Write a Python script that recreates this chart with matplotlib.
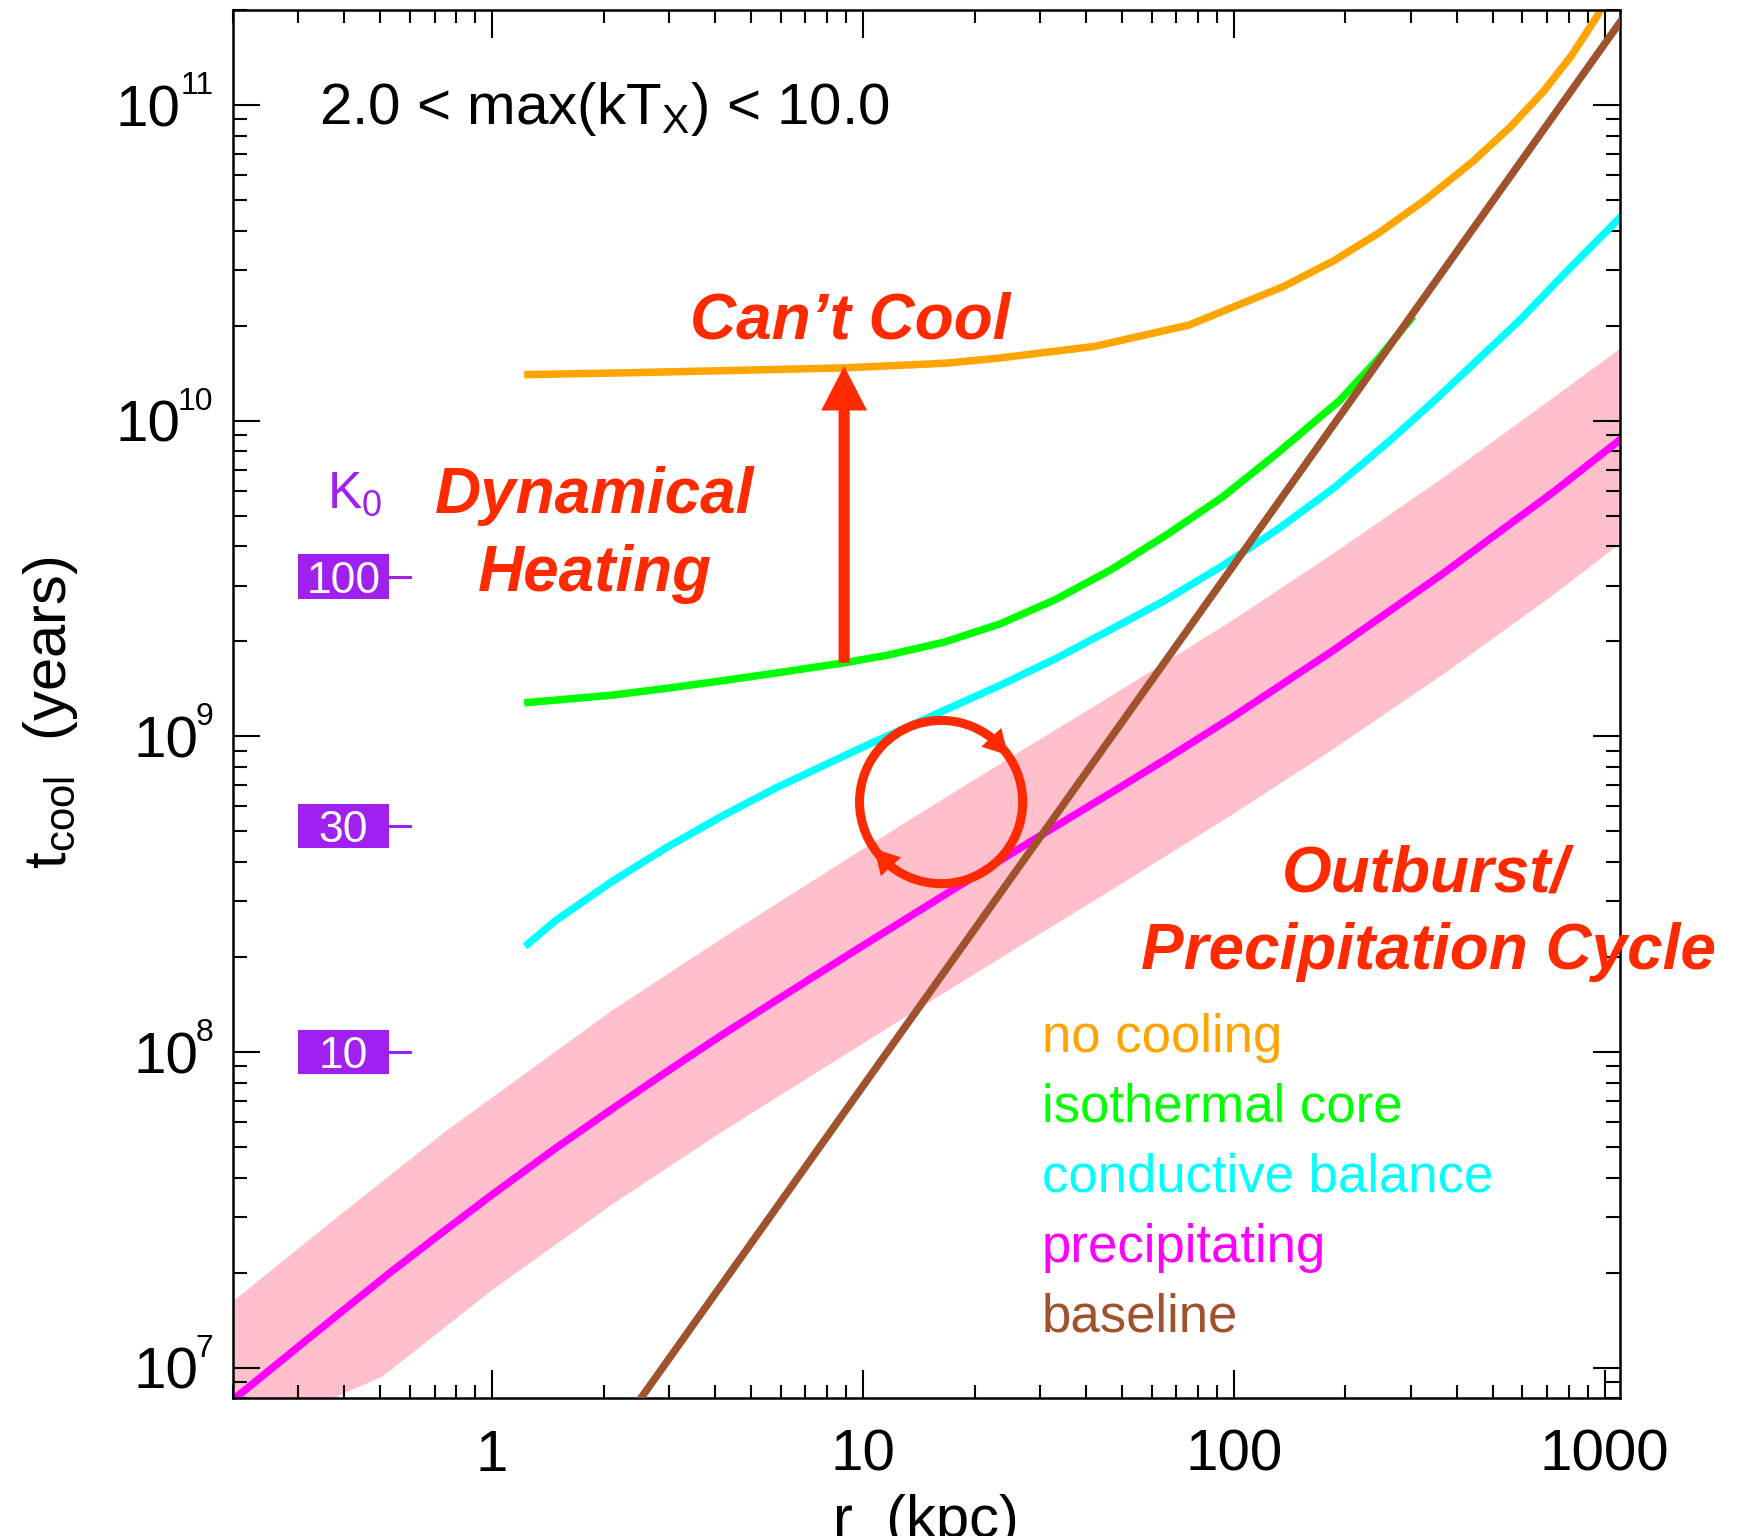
import numpy as np
import matplotlib
matplotlib.use("Agg")
import matplotlib.pyplot as plt
import matplotlib.transforms as mtransforms
from matplotlib.patches import Circle, Rectangle
from matplotlib.ticker import NullFormatter, LogLocator

plt.rcParams['font.family'] = ['Liberation Sans', 'DejaVu Sans']
plt.rcParams['mathtext.fontset'] = 'custom'
plt.rcParams['mathtext.rm'] = 'Liberation Sans'
plt.rcParams['mathtext.it'] = 'Liberation Sans:italic'
plt.rcParams['mathtext.bf'] = 'Liberation Sans:bold'

# --- curves (r in kpc, t_cool in years) ---
r_nocool = [1.25, 2.10, 4.17, 8.91, 16.6, 23.4, 42.2, 75.8, 136, 185, 245, 332,
            442, 556, 685, 812, 948, 1186]
t_nocool = [1.40e10, 1.415e10, 1.44e10, 1.47e10, 1.52e10, 1.58e10, 1.72e10, 2.01e10,
            2.66e10, 3.20e10, 3.92e10, 5.06e10, 6.64e10, 8.51e10, 1.107e11, 1.43e11,
            1.89e11, 2.95e11]

r_iso = [1.25, 2.10, 2.96, 4.17, 5.88, 8.91, 11.7, 16.6, 23.4, 33.0, 46.6, 65.7,
         92.8, 131, 193, 245, 300]
t_iso = [1.28e9, 1.35e9, 1.42e9, 1.50e9, 1.59e9, 1.71e9, 1.81e9, 1.99e9, 2.27e9,
         2.71e9, 3.37e9, 4.34e9, 5.71e9, 7.89e9, 1.16e10, 1.57e10, 2.1e10]

r_cond = [1.25, 1.485, 2.10, 2.96, 4.17, 5.88, 10.0, 16.6, 23.4, 33.0, 46.6, 65.7,
          92.8, 131, 185, 261, 348, 452, 592, 785, 1100]
t_cond = [2.20e8, 2.61e8, 3.46e8, 4.45e8, 5.59e8, 6.90e8, 9.25e8, 1.21e9, 1.45e9,
          1.76e9, 2.18e9, 2.71e9, 3.46e9, 4.52e9, 6.09e9, 8.56e9, 1.16e10, 1.55e10,
          2.09e10, 2.95e10, 4.4e10]

r_precip = [0.2, 0.3745, 0.528, 0.746, 1.0, 1.485, 2.10, 2.96, 4.17, 5.89, 9.95,
            16.56, 28.3, 46.6, 65.7, 98.6, 184.6, 367.8, 732, 1100]
t_precip = [7.9e6, 1.437e7, 1.99e7, 2.72e7, 3.53e7, 4.96e7, 6.58e7, 8.67e7, 1.133e8,
            1.468e8, 2.165e8, 3.14e8, 4.64e8, 6.62e8, 8.48e8, 1.146e9, 1.865e9,
            3.29e9, 5.98e9, 8.7e9]

# scatter band around the precipitation curve
r_band_hi = [0.2, 0.3745, 0.746, 1.0, 2.10, 4.17, 9.95, 16.56, 28.3, 46.6, 98.6,
             184.6, 367.8, 732, 1100]
t_band_hi = [1.62e7, 2.94e7, 5.58e7, 7.17e7, 1.35e8, 2.29e8, 4.38e8, 6.36e8, 9.38e8,
             1.34e9, 2.32e9, 3.78e9, 6.61e9, 1.19e10, 1.69e10]
r_band_lo = [0.2, 0.373, 0.507, 1.0, 2.10, 4.17, 9.95, 16.56, 28.3, 46.6, 98.6,
             184.6, 367.8, 732, 1100]
t_band_lo = [6.2e6, 8.0e6, 9.38e6, 1.76e7, 3.28e7, 5.59e7, 1.06e8, 1.54e8, 2.27e8,
             3.25e8, 5.63e8, 9.08e8, 1.575e9, 2.82e9, 4.08e9]

r_base = [2.5, 1100]
t_base = [7.9e6, 1.83e11]

# K0 markers on the left (keV cm^2) and the matching cooling times
k0_labels = ['10', '30', '100']
k0_tcool = [1.0e8, 5.2e8, 3.2e9]

# dynamical heating arrow
heat_r = 8.9
heat_t = [1.71e9, 1.49e10]

x_ticks = [1, 10, 100, 1000]
x_ticklabels = ['1', '10', '100', '1000']
y_ticks = [1e7, 1e8, 1e9, 1e10, 1e11]
y_exponents = ['7', '8', '9', '10', '11']

names = ['no cooling', 'isothermal core', 'conductive balance', 'precipitating', 'baseline']
colors = ['#ffa500', '#00ff00', '#00ffff', '#ff00ff', '#a0522d']
RED = '#ff2a00'
PURPLE = '#a020f0'

fig = plt.figure(figsize=(17.42, 15.36), dpi=100)
ax = fig.add_axes([0.1336, 0.08965, 0.7964, 0.90384])

# band first, then the curves
band_r = list(r_band_hi) + list(r_band_lo[::-1])
band_t = list(t_band_hi) + list(t_band_lo[::-1])
ax.fill(band_r, band_t, color='#ffc0cb', lw=0, zorder=1)

lw = 5.4
ax.plot(r_nocool, t_nocool, color=colors[0], lw=lw, zorder=2)
ax.plot(r_iso, t_iso, color=colors[1], lw=lw, zorder=2)
ax.plot(r_cond, t_cond, color=colors[2], lw=lw, zorder=2)
ax.plot(r_precip, t_precip, color=colors[3], lw=lw, zorder=2)
ax.plot(r_base, t_base, color=colors[4], lw=lw, zorder=3)

ax.set_xscale('log')
ax.set_yscale('log')
ax.set_xlim(0.2, 1100)
ax.set_ylim(8e6, 2e11)

ax.set_xticks(x_ticks, labels=x_ticklabels)
ax.set_yticks(y_ticks)
ax.yaxis.set_major_formatter(NullFormatter())
ax.xaxis.set_minor_locator(LogLocator(base=10, subs=np.arange(2, 10), numticks=20))
ax.yaxis.set_minor_locator(LogLocator(base=10, subs=np.arange(2, 10), numticks=20))
ax.xaxis.set_minor_formatter(NullFormatter())
ax.yaxis.set_minor_formatter(NullFormatter())
ax.tick_params(which='both', direction='in', top=True, right=True, width=1.5, labelsize=42)
ax.tick_params(axis='x', which='major', length=20, pad=22)
ax.tick_params(axis='x', which='minor', length=9.5)
ax.tick_params(axis='y', which='major', length=19.5, pad=14)
ax.tick_params(axis='y', which='minor', length=10)
for s in ax.spines.values():
    s.set_linewidth(1.8)

# IDL-style y labels: "10" with a small raised exponent
trans = mtransforms.blended_transform_factory(ax.transAxes, ax.transData)
for t, e in zip(y_ticks, y_exponents):
    exp_w = 12.8 * len(e)          # width of exponent digits in points
    ax.annotate(e, xy=(0, t), xycoords=trans, xytext=(-14, 8), textcoords='offset points',
                ha='right', va='baseline', fontsize=23, annotation_clip=False)
    ax.annotate('10', xy=(0, t), xycoords=trans, xytext=(-12 - exp_w, 0),
                textcoords='offset points', ha='right', va='center_baseline',
                fontsize=42, annotation_clip=False)

ax.set_xlabel('r  (kpc)', fontsize=43)
ax.xaxis.set_label_coords(0.5, -0.069)
ax.set_ylabel(r't$_{\mathrm{cool}}$  (years)', fontsize=43, va='center')
ax.yaxis.set_label_coords(-0.1317, 0.4936)

# title-like label inside the panel
ax.text(0.0622, 0.9176, r'2.0 < max(kT$_{\mathrm{X}}$) < 10.0', fontsize=42,
        transform=ax.transAxes, va='baseline')

# legend as coloured words
legend_y = [0.2497, 0.1993, 0.1489, 0.0985, 0.0481]
for name, c, y in zip(names, colors, legend_y):
    ax.text(0.5832, y, name, color=c, fontsize=38, transform=ax.transAxes, va='baseline')

# red annotations
red_kw = dict(color=RED, fontsize=46, fontweight='bold', fontstyle='italic',
              transform=ax.transAxes, ha='center', va='baseline', zorder=6)
ax.text(0.4449, 0.7633, 'Can\u2019t Cool', **red_kw)
ax.text(0.2611, 0.6377, 'Dynamical', **red_kw)
ax.text(0.2611, 0.5815, 'Heating', **red_kw)
ax.text(0.8601, 0.3647, 'Outburst/', **red_kw)
ax.text(0.8616, 0.3089, 'Precipitation Cycle', **red_kw)

ax.annotate('', xy=(heat_r, heat_t[1]), xytext=(heat_r, heat_t[0]),
            arrowprops=dict(arrowstyle='simple,head_length=1.6,head_width=1.65,tail_width=0.4',
                            mutation_scale=20, fc=RED, ec='none', shrinkA=0, shrinkB=0),
            zorder=6)

# outburst / precipitation cycle
cx, cy, cr = 0.5106, 0.4295, 0.0588
ax.add_patch(Circle((cx, cy), cr, transform=ax.transAxes, fill=False, ec=RED, lw=6.5, zorder=5))
for ang in [45, 225]:
    a_tip = np.radians(ang - 10)
    a_tail = np.radians(ang + 6)
    ax.annotate('', xy=(cx + cr * np.cos(a_tip), cy + cr * np.sin(a_tip)),
                xytext=(cx + cr * np.cos(a_tail), cy + cr * np.sin(a_tail)),
                xycoords='axes fraction',
                arrowprops=dict(arrowstyle='-|>,head_length=0.8,head_width=0.45',
                                mutation_scale=22, color=RED, lw=0, shrinkA=0, shrinkB=0),
                zorder=5)

# K0 scale on the left
ax.text(0.068, 0.6413, r'K$_0$', color=PURPLE, fontsize=37, transform=ax.transAxes, va='baseline')
for lab, t in zip(k0_labels, k0_tcool):
    ax.add_patch(Rectangle((0.0471, t / 1.178), 0.0656, t * 1.178 - t / 1.178,
                           transform=trans, color=PURPLE, lw=0, zorder=4))
    ax.plot([0.1127, 0.1278], [t, t], transform=trans, color=PURPLE, lw=2.2, zorder=4)
    ax.text(0.0799, t, lab, transform=trans, ha='center', va='center_baseline',
            color='white', fontsize=32, zorder=5)

fig.savefig('out.png', dpi=100)
